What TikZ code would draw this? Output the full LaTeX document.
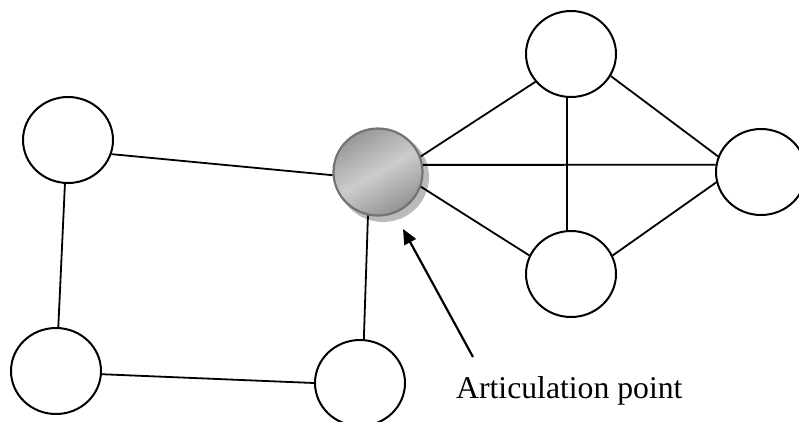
\documentclass[tikz,border=0pt]{standalone}
\usepackage{fontspec}
\setmainfont{Liberation Serif}
\usetikzlibrary{shapes.geometric,arrows.meta}
\begin{document}
\begin{tikzpicture}[x=1pt,y=-1pt,
  vertex/.style={ellipse,draw=black,line width=2pt,fill=white,
    minimum width=90pt,minimum height=86pt,inner sep=0pt},
  artic/.style={ellipse,draw=black!55,line width=2.2pt,
    minimum width=89pt,minimum height=87pt,inner sep=0pt,
    top color=black!40,bottom color=black!42,middle color=black!20,
    shading angle=30},
  shadowblob/.style={ellipse,fill=black!27,draw=none,
    minimum width=92pt,minimum height=90pt,inner sep=0pt},
  link/.style={line width=1.8pt,draw=black},
  pointer/.style={line width=2.2pt,draw=black,
    -{Triangle[length=15pt,width=13pt]}}]
\useasboundingbox (0,0) rectangle (799,421);

% shadow of the articulation vertex
\node[shadowblob] (sh) at (383,177) {};

% vertices
\node[vertex] (A) at (68,140) {};
\node[vertex] (B) at (56,371) {};
\node[vertex] (C) at (360,383) {};
\node[artic]  (G) at (378,172) {};
\node[vertex] (D) at (571,54) {};
\node[vertex] (E) at (761,172) {};
\node[vertex] (F) at (571,274) {};

% edges
\draw[link] (A.-18) -- (G.184);
\draw[link] (A.266) -- (B.87);
\draw[link] (B.-4) -- (C.180);
\draw[link] (C.85) -- (G.257);
\draw[link] (G.20) -- (D.218);
\draw[link] (G.9) -- (E.171);
\draw[link] (G.-19) -- (F.156);
\draw[link] (D.265) -- (F.95);
\draw[link] (D.-29) -- (E.160);
\draw[link] (F.24) -- (E.193);

% label and pointer
\node[anchor=base west,inner sep=0pt,font=\fontsize{31.7}{38}\selectfont]
  (lbl) at (456,398) {Articulation point};
\coordinate (tail) at (473,357);
\coordinate (tip) at (403,229);
\draw[pointer] (tail) -- (tip);
\end{tikzpicture}
\end{document}
